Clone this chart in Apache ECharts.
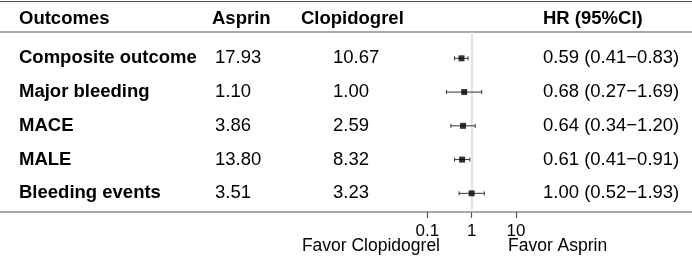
<!DOCTYPE html>
<html>
<head>
<meta charset="utf-8">
<script src="https://cdn.jsdelivr.net/npm/echarts@6/dist/echarts.min.js"></script>
<style>
  html, body { margin: 0; padding: 0; background: #fff; }
  #main { width: 692px; height: 259px; }
</style>
</head>
<body>
<div id="main"></div>
<script>
// table columns
var outcomes = ['Composite outcome', 'Major bleeding', 'MACE', 'MALE', 'Bleeding events'];
var asprin = ['17.93', '1.10', '3.86', '13.80', '3.51'];
var clopidogrel = ['10.67', '1.00', '2.59', '8.32', '3.23'];
var hrText = ['0.59 (0.41\u22120.83)', '0.68 (0.27\u22121.69)', '0.64 (0.34\u22121.20)', '0.61 (0.41\u22120.91)', '1.00 (0.52\u22121.93)'];
// forest values
var hr = [0.59, 0.68, 0.64, 0.61, 1.00];
var lower = [0.41, 0.27, 0.34, 0.41, 0.52];
var upper = [0.83, 1.69, 1.20, 0.91, 1.93];

var FONT = "'Liberation Sans', Arial, sans-serif";
var myChart = echarts.init(document.getElementById('main'));

var ruleColor = '#555';

// one text column = one category y axis on grid 1
function textCol(name, data, axisX, labelX, bold) {
  return {
    type: 'category',
    gridIndex: 1,
    inverse: true,
    position: 'left',
    offset: 680 - axisX,
    data: data,
    name: name,
    nameLocation: 'start',
    nameGap: 22,
    nameMoveOverlap: false,
    nameTextStyle: {
      fontFamily: FONT, fontSize: 18.5, fontWeight: 'bold', color: '#000',
      align: 'left', verticalAlign: 'middle'
    },
    axisLine: { show: false, onZero: false },
    axisTick: { show: false },
    axisLabel: {
      margin: axisX - labelX,
      align: 'left',
      fontFamily: FONT, fontSize: 18.5, color: '#000',
      fontWeight: bold ? 'bold' : 'normal'
    }
  };
}

var ciData = outcomes.map(function (o, i) { return [lower[i], upper[i], i]; });
var ptData = outcomes.map(function (o, i) { return [hr[i], i]; });

myChart.setOption({
  animation: false,
  grid: [
    { left: 427.3, width: 88.7, top: 32, height: 180 },
    { left: 680, width: 10, top: 41.4, height: 168.75 }
  ],
  xAxis: [
    {
      type: 'log', gridIndex: 0, min: 0.1, max: 10, logBase: 10,
      position: 'bottom',
      axisLine: { show: false, onZero: false },
      axisTick: { show: true, length: 6, lineStyle: { color: ruleColor, width: 1.2 } },
      axisLabel: { fontFamily: FONT, fontSize: 17, color: '#000', margin: 11 },
      splitLine: { show: false }
    },
    { type: 'value', gridIndex: 1, show: false, axisLine: { onZero: false } }
  ],
  yAxis: [
    { type: 'value', gridIndex: 0, inverse: true, min: -0.78, max: 4.553, show: false, axisLine: { onZero: false } },
    textCol('Outcomes', outcomes, 19, 19, true),
    textCol('Asprin', asprin, 212, 215, false),
    textCol('Clopidogrel', clopidogrel, 301, 333, false),
    textCol('HR (95%CI)', hrText, 543, 543, false)
  ],
  series: [
    {
      type: 'custom',
      xAxisIndex: 0, yAxisIndex: 0,
      data: ciData,
      renderItem: function (params, api) {
        var a = api.coord([api.value(0), api.value(2)]);
        var b = api.coord([api.value(1), api.value(2)]);
        var st = { stroke: '#333', lineWidth: 1 };
        return {
          type: 'group',
          children: [
            { type: 'line', shape: { x1: a[0], y1: a[1], x2: b[0], y2: b[1] }, style: st },
            { type: 'line', shape: { x1: a[0], y1: a[1] - 2, x2: a[0], y2: a[1] + 2 }, style: st },
            { type: 'line', shape: { x1: b[0], y1: b[1] - 2, x2: b[0], y2: b[1] + 2 }, style: st }
          ]
        };
      },
      z: 2
    },
    {
      type: 'scatter',
      xAxisIndex: 0, yAxisIndex: 0,
      symbol: 'rect',
      symbolSize: 6,
      itemStyle: { color: '#000' },
      data: ptData,
      z: 3,
      markLine: {
        silent: true,
        symbol: 'none',
        label: { show: false },
        lineStyle: { color: '#dcdcdc', width: 1.6, type: 'solid' },
        data: [{ xAxis: 1 }],
        z: 1
      }
    }
  ],
  graphic: [
    { type: 'line', shape: { x1: 0, y1: 1.5, x2: 692, y2: 1.5 }, style: { stroke: ruleColor, lineWidth: 1.2 } },
    { type: 'line', shape: { x1: 0, y1: 32, x2: 692, y2: 32 }, style: { stroke: ruleColor, lineWidth: 1.2 } },
    { type: 'line', shape: { x1: 0, y1: 212, x2: 692, y2: 212 }, style: { stroke: ruleColor, lineWidth: 1.2 } },
    { type: 'text', x: 440, y: 246, style: { text: 'Favor Clopidogrel', font: '17.5px ' + FONT, fill: '#000', textAlign: 'right', textVerticalAlign: 'middle' } },
    { type: 'text', x: 508, y: 246, style: { text: 'Favor Asprin', font: '17.5px ' + FONT, fill: '#000', textAlign: 'left', textVerticalAlign: 'middle' } }
  ]
});
</script>
</body>
</html>
